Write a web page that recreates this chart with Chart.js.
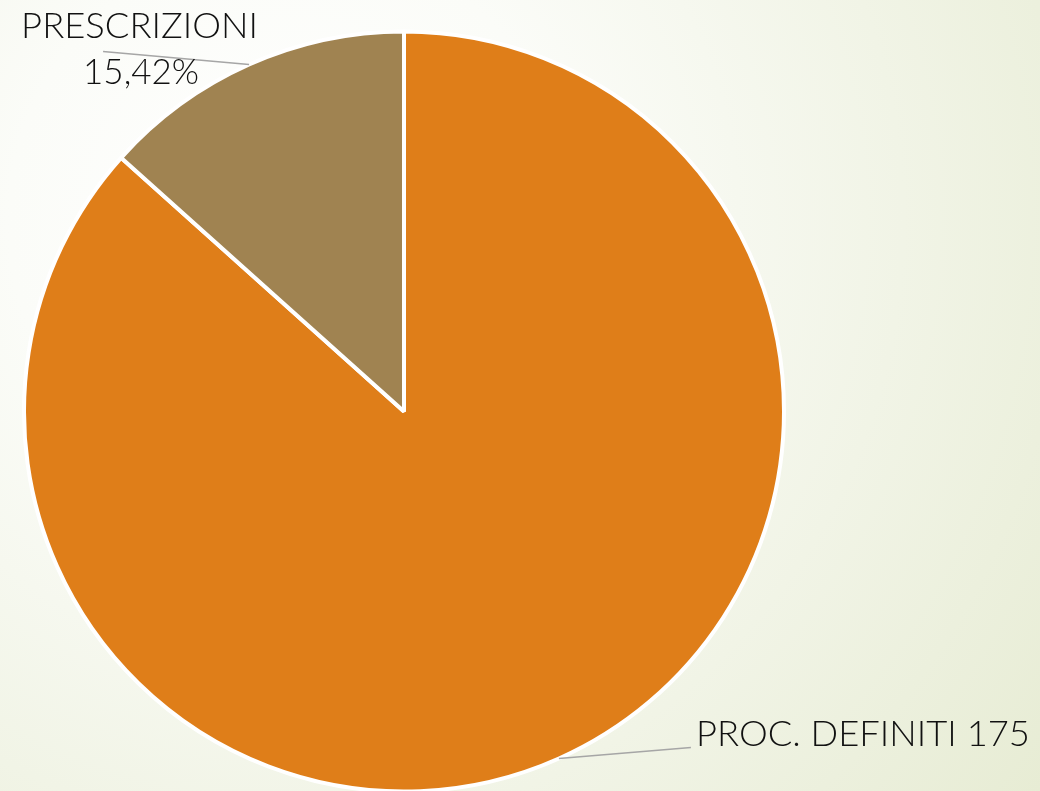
<!DOCTYPE html>
<html>
<head>
<meta charset="utf-8">
<script src="https://cdn.jsdelivr.net/npm/chart.js@4/dist/chart.umd.min.js"></script>
<style>
  html, body { margin: 0; padding: 0; }
  body {
    width: 1040px; height: 791px; overflow: hidden;
    background: radial-gradient(circle at 28% 28%, #ffffff 0%, #fbfcf8 30%, #f1f4e6 65%, #e7ecd4 100%);
  }
  canvas { display: block; }
</style>
</head>
<body>
<canvas id="pie" width="1040" height="791"></canvas>
<script>
// data
var categories = ['PROC. DEFINITI', 'PRESCRIZIONI'];
var values = [175, 27];
var percentTexts = [null, '15,42%'];
var colors = ['#df7e19', '#a08351'];

// label layout: where the leader line ends and how the text sits around it
var labelLayout = [
    { dx: 132, dy: -11, lines: [{ text: categories[0] + ' ' + values[0], ox: 5, oy: -1, align: 'left', width: 334 }] },
    { dx: -146, dy: -13, lines: [
        { text: categories[1], ox: 36.5, oy: -14, align: 'center', width: 237 },
        { text: percentTexts[1], ox: 38, oy: 32, align: 'center', width: 116 }
    ] }
];

var sliceLabels = {
    id: 'sliceLabels',
    afterDatasetsDraw: function (chart) {
        var ctx = chart.ctx;
        var arcs = chart.getDatasetMeta(0).data;
        ctx.save();
        arcs.forEach(function (arc, i) {
            var p = arc.getProps(['x', 'y', 'startAngle', 'endAngle', 'outerRadius'], true);
            var mid = (p.startAngle + p.endAngle) / 2;
            var ax = p.x + Math.cos(mid) * p.outerRadius;
            var ay = p.y + Math.sin(mid) * p.outerRadius;
            var cfg = labelLayout[i];
            var ex = ax + cfg.dx, ey = ay + cfg.dy;

            ctx.strokeStyle = '#a6a6a6';
            ctx.lineWidth = 1.5;
            ctx.beginPath();
            ctx.moveTo(ax, ay);
            ctx.lineTo(ex, ey);
            ctx.stroke();

            ctx.fillStyle = '#111111';
            ctx.font = '300 35px Lato, "DejaVu Sans", sans-serif';
            ctx.textBaseline = 'alphabetic';
            cfg.lines.forEach(function (ln) {
                var w = ctx.measureText(ln.text).width;
                var sx = ln.width / w;
                var x = ex + ln.ox, y = ey + ln.oy;
                var left = ln.align === 'center' ? x - ln.width / 2 : x;
                ctx.save();
                ctx.translate(left, y);
                ctx.scale(sx, 1);
                ctx.textAlign = 'left';
                ctx.fillText(ln.text, 0, 0);
                ctx.restore();
            });
        });
        ctx.restore();
    }
};

new Chart(document.getElementById('pie').getContext('2d'), {
    type: 'pie',
    data: {
        labels: categories,
        datasets: [{
            data: values,
            backgroundColor: colors,
            borderColor: '#ffffff',
            borderWidth: 4
        }]
    },
    options: {
        responsive: false,
        animation: false,
        radius: 380,
        layout: { padding: { left: 24, right: 256, top: 32, bottom: 0 } },
        plugins: {
            legend: { display: false },
            tooltip: { enabled: false }
        }
    },
    plugins: [sliceLabels]
});
</script>
</body>
</html>
